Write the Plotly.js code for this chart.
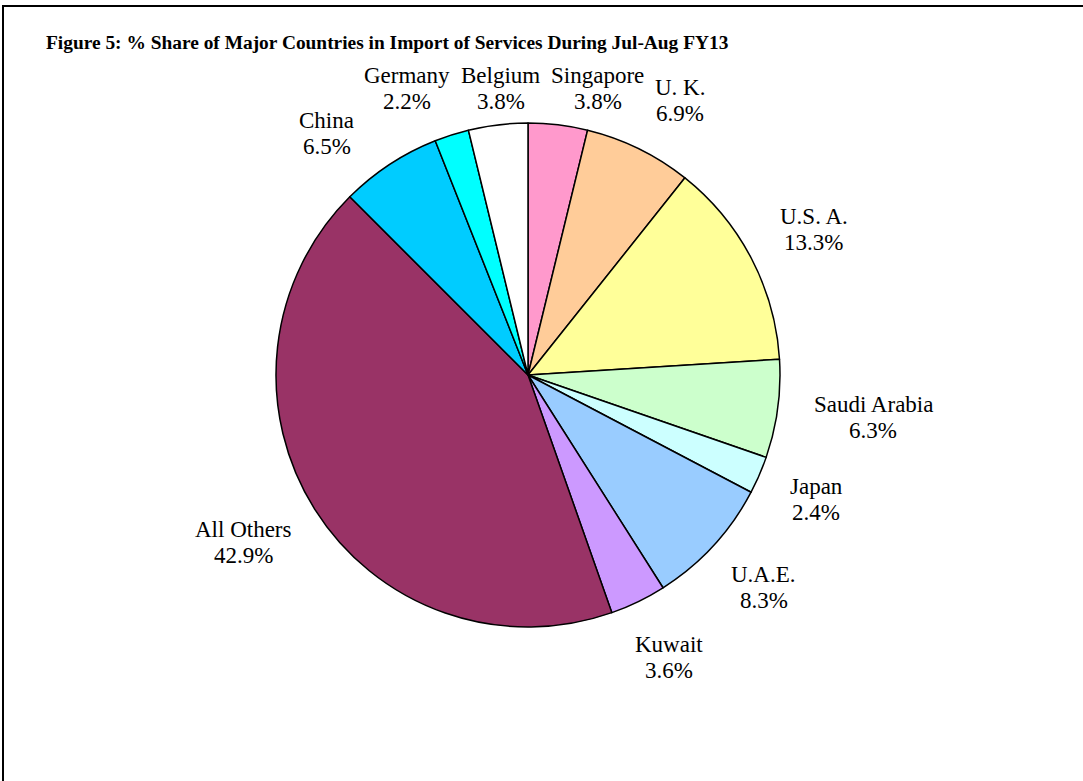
<!DOCTYPE html>
<html>
<head>
<meta charset="utf-8">
<script src="https://cdn.plot.ly/plotly-3.0.1.min.js"></script>
<style>
  html, body { margin: 0; padding: 0; background: #fff; }
  #chart { width: 1083px; height: 781px; }
</style>
</head>
<body>
<div id="chart"></div>
<script>
// ---- data ----
const countries = ["Singapore", "U. K.", "U.S. A.", "Saudi Arabia", "Japan", "U.A.E.", "Kuwait", "All Others", "China", "Germany", "Belgium"];
const shares = [3.8, 6.9, 13.3, 6.3, 2.4, 8.3, 3.6, 42.9, 6.5, 2.2, 3.8];
const sliceColors = ["#FF99CC", "#FFCC99", "#FFFF99", "#CCFFCC", "#CCFFFF", "#99CCFF", "#CC99FF", "#993366", "#00CCFF", "#00FFFF", "#FFFFFF"];
const chartTitle = "Figure 5: % Share of Major Countries in Import of Services During Jul-Aug FY13";

// ---- layout geometry (pixels) ----
const W = 1083, H = 781;
const cx = 528, cy = 375, R = 252;
const labelFont = "Liberation Serif";
const labelSize = 23;
const lineGap = 26;          // distance between the two label lines
const gap = 36;              // distance between pie edge and label box
const halfH = lineGap;       // half height of a two-line label box
const topLimit = 62;         // labels stay below the title area
const padX = 5;              // horizontal clearance between neighbouring labels

const px2x = p => p / W;
const px2y = p => 1 - p / H;

// measure label widths
const ctx = document.createElement("canvas").getContext("2d");
ctx.font = labelSize + "px '" + labelFont + "'";
const pctText = shares.map(v => v.toFixed(1) + "%");
const widths = countries.map((c, i) => Math.max(ctx.measureText(c).width, ctx.measureText(pctText[i]).width));

const total = shares.reduce((a, b) => a + b, 0);
let cum = 0;
const angles = shares.map(v => { const m = (cum + v / 2) / total * 2 * Math.PI; cum += v; return m; });

function box(a, i) {
  const s = Math.sin(a), c = Math.cos(a);
  const x = cx + (R + gap) * s + widths[i] / 2 * s;
  let y = cy - (R + gap) * c - halfH * c;
  if (y - halfH < topLimit) y = topLimit + halfH;
  return { x: x, y: y, l: x - widths[i] / 2 - padX, r: x + widths[i] / 2 + padX, t: y - halfH, b: y + halfH };
}
function overlap(A, B) { return A.l < B.r && B.l < A.r && A.t < B.b && B.t < A.b; }

// spread overlapping neighbours apart along the circle
const ang = angles.slice();
const n = ang.length;
for (let it = 0; it < 800; it++) {
  let moved = false;
  for (let j = 0; j < n; j++) {
    const k = (j + 1) % n;
    if (overlap(box(ang[j], j), box(ang[k], k))) {
      ang[j] -= 0.003; ang[k] += 0.003; moved = true;
    }
  }
  if (!moved) break;
}

const annotations = [];
countries.forEach((name, i) => {
  const b = box(ang[i], i);
  [[name, b.y - lineGap / 2], [pctText[i], b.y + lineGap / 2]].forEach(([t, y]) => {
    annotations.push({
      text: t, x: px2x(b.x), y: px2y(y), xref: "paper", yref: "paper",
      xanchor: "center", yanchor: "middle", showarrow: false, align: "center",
      font: { family: labelFont, size: labelSize, color: "#000" }
    });
  });
});

const trace = {
  type: "pie",
  labels: countries,
  values: shares,
  sort: false,
  direction: "clockwise",
  rotation: 0,
  textinfo: "none",
  hoverinfo: "label+percent",
  marker: { colors: sliceColors, line: { color: "#000", width: 1.5 } },
  domain: { x: [px2x(cx - R), px2x(cx + R)], y: [px2y(cy + R), px2y(cy - R)] },
  showlegend: false
};

const layout = {
  width: W, height: H,
  margin: { l: 0, r: 0, t: 0, b: 0 },
  paper_bgcolor: "#fff",
  showlegend: false,
  title: {
    text: chartTitle,
    x: px2x(46), xanchor: "left", xref: "paper",
    y: px2y(42), yanchor: "middle", yref: "paper",
    font: { family: labelFont, size: 19.4, weight: "bold", color: "#000" }
  },
  annotations: annotations,
  shapes: [
    { type: "line", xref: "paper", yref: "paper", x0: px2x(3), x1: px2x(3), y0: 0, y1: px2y(5), line: { color: "#000", width: 2 } },
    { type: "line", xref: "paper", yref: "paper", x0: px2x(2), x1: 1, y0: px2y(6), y1: px2y(6), line: { color: "#000", width: 2 } }
  ]
};

Plotly.newPlot("chart", [trace], layout, { displayModeBar: false, staticPlot: true });
</script>
</body>
</html>
